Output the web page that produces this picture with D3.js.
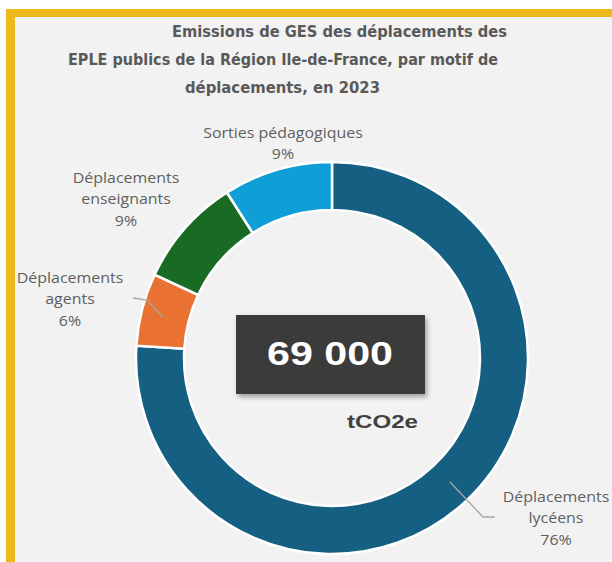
<!DOCTYPE html>
<html>
<head>
<meta charset="utf-8">
<script src="https://cdn.jsdelivr.net/npm/d3@7"></script>
<style>
  body { margin: 0; background: #ffffff; }
  svg { display: block; }
</style>
</head>
<body>
<svg id="chart" width="612" height="562"></svg>
<script>
"use strict";

// données
const categories = [
  "Déplacements lycéens",
  "Déplacements agents",
  "Déplacements enseignants",
  "Sorties pédagogiques"
];
const shares = [76, 6, 9, 9];
const labelLines = [
  ["Déplacements", "lycéens", "76%"],
  ["Déplacements", "agents", "6%"],
  ["Déplacements", "enseignants", "9%"],
  ["Sorties pédagogiques", "9%"]
];
const colors = ["#145f82", "#e97132", "#196b24", "#0f9ed5"];
const titleLines = [
  "Emissions de GES des déplacements des",
  "EPLE publics de la Région Ile-de-France, par motif de",
  "déplacements, en 2023"
];
const totalLabel = "69 000";
const unitLabel = "tCO2e";

const svg = d3.select("#chart");

// cadre jaune + fond gris
svg.append("rect").attr("x", 6).attr("y", 9).attr("width", 606).attr("height", 553)
  .attr("fill", "#ecb81b");
svg.append("rect").attr("x", 15).attr("y", 17).attr("width", 597).attr("height", 545)
  .attr("fill", "#f2f2f2");

// titre (l'image d'origine est un peu étirée en largeur -> textLength)
const titleBox = [[172, 335], [68, 430], [185, 195]];
svg.selectAll("text.title")
  .data(titleLines)
  .join("text")
  .attr("class", "title")
  .attr("x", (d, i) => titleBox[i][0])
  .attr("y", (d, i) => 37 + i * 28)
  .attr("textLength", (d, i) => titleBox[i][1])
  .attr("lengthAdjust", "spacingAndGlyphs")
  .style("font-family", "'DejaVu Sans Condensed', 'DejaVu Sans', sans-serif")
  .style("font-stretch", "condensed")
  .style("font-weight", "bold")
  .style("font-size", "16.5px")
  .style("fill", "#595959")
  .text(d => d);

// anneau
const cx = 332, cy = 358;
const pie = d3.pie().sort(null).value(d => d);
const arc = d3.arc().innerRadius(148).outerRadius(196);
const arcs = pie(shares);

const g = svg.append("g").attr("transform", `translate(${cx},${cy})`);
g.selectAll("path")
  .data(arcs)
  .join("path")
  .attr("d", arc)
  .attr("fill", (d, i) => colors[i])
  .attr("stroke", "#ffffff")
  .attr("stroke-width", 2.5);

// étiquettes : centre x et ligne de base de la première ligne
const labelPos = [[556, 502], [70, 283], [126, 183], [283, 138]];
const leaders = [
  [[450, 482], [483, 517], [495, 517]],
  [[133, 298], [147, 300], [163, 317]]
];

svg.selectAll("polyline.leader")
  .data(leaders)
  .join("polyline")
  .attr("class", "leader")
  .attr("points", d => d.map(p => p.join(",")).join(" "))
  .attr("fill", "none")
  .attr("stroke", "#a6a6a6")
  .attr("stroke-width", 1.3);

labelLines.forEach((lines, i) => {
  const t = svg.append("g")
    .attr("transform", `translate(${labelPos[i][0]},${labelPos[i][1]}) scale(1.1,1)`)
    .append("text")
    .attr("text-anchor", "middle")
    .style("font-family", "'Open Sans', sans-serif")
    .style("font-size", "14.5px")
    .style("fill", "#5f5f5f");
  lines.forEach((ln, j) => {
    t.append("tspan")
      .attr("x", 0)
      .attr("y", j * 21.5)
      .text(ln);
  });
});

// encadré total
const defs = svg.append("defs");
const f = defs.append("filter").attr("id", "shadow").attr("x", "-10%").attr("y", "-10%")
  .attr("width", "130%").attr("height", "140%");
f.append("feDropShadow").attr("dx", 2).attr("dy", 3).attr("stdDeviation", 2.5)
  .attr("flood-color", "#000").attr("flood-opacity", 0.35);

svg.append("rect")
  .attr("x", 236).attr("y", 315).attr("width", 189).attr("height", 79)
  .attr("fill", "#3b3b3b")
  .attr("filter", "url(#shadow)");
svg.append("text")
  .attr("x", 267).attr("y", 365)
  .attr("textLength", 126)
  .attr("lengthAdjust", "spacingAndGlyphs")
  .style("font-family", "'Liberation Sans', Arial, sans-serif")
  .style("font-weight", "bold")
  .style("font-size", "33px")
  .style("fill", "#ffffff")
  .text(totalLabel);
svg.append("text")
  .attr("x", 347).attr("y", 428)
  .attr("textLength", 71)
  .attr("lengthAdjust", "spacingAndGlyphs")
  .style("font-family", "'Liberation Sans', Arial, sans-serif")
  .style("font-weight", "bold")
  .style("font-size", "18px")
  .style("fill", "#404040")
  .text(unitLabel);
</script>
</body>
</html>
